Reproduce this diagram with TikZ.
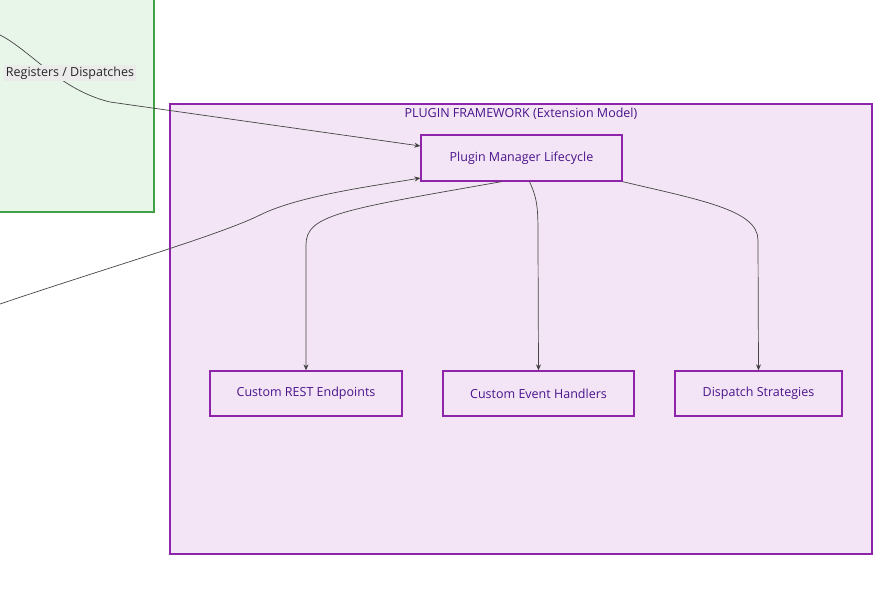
\documentclass[tikz,border=0pt]{standalone}
\usepackage{fontspec}
\setmainfont{Open Sans}
\usetikzlibrary{arrows.meta}
\definecolor{gfill}{HTML}{E8F5E9}
\definecolor{gline}{HTML}{43A047}
\definecolor{pfill}{HTML}{F3E5F5}
\definecolor{pline}{HTML}{8E24AA}
\definecolor{ptext}{HTML}{4A148C}
\definecolor{edge}{HTML}{444444}
\begin{document}
\begin{tikzpicture}[x=1pt,y=-1pt,
  box/.style={draw=pline,line width=1.3pt,fill=pfill,text=ptext,font=\fontsize{12.5}{14}\selectfont,inner sep=0},
  conn/.style={draw=edge,line width=0.7pt,-{Stealth[length=6pt,width=5pt]}}]
\useasboundingbox (0,0) rectangle (892,595);
\fill[gfill,draw=gline,line width=1.2pt] (-5,-5) rectangle (154,212);
\fill[pfill,draw=pline,line width=1.3pt] (170,104) rectangle (872,554);
\node[text=ptext,font=\fontsize{12.5}{14}\selectfont] (title) at (521,114) {PLUGIN FRAMEWORK (Extension Model)};
\node[box,minimum width=201pt,minimum height=46pt] (pm) at (521.5,158) {Plugin Manager Lifecycle};
\node[box,minimum width=192pt,minimum height=45pt] (rest) at (306,393.5) {Custom REST Endpoints};
\node[box,minimum width=191pt,minimum height=45pt] (ev) at (538.5,393.5) {Custom Event Handlers};
\node[box,minimum width=167pt,minimum height=45pt] (ds) at (758.5,393.5) {Dispatch Strategies};
\coordinate (a) at (0,35);
\coordinate (b) at (0,304);
\draw[conn] (pm.south) ++(-20,0) coordinate (p1) .. controls (340,210) and (306,215) .. (306,245) -- (rest.north);
\draw[conn] (pm.south) ++(8,0) coordinate (p2) .. controls (538,200) and (538,210) .. (538,240) -- (ev.north);
\draw[conn] (pm.south east) .. controls (700,200) and (758,210) .. (758,240) -- (ds.north);
\draw[conn] (a) .. controls (30,50) and (60,90) .. (110,102) -- (pm.west |- 0,146);
\draw[conn] (b) .. controls (100,270) and (220,235) .. (260,215) .. controls (300,195) and (380,185) .. (pm.south west |- 0,178);
\node[fill=black!8,text=black!85,font=\fontsize{12.5}{14}\selectfont,inner sep=1.5pt] (lbl) at (70,73) {Registers / Dispatches};
\end{tikzpicture}
\end{document}
